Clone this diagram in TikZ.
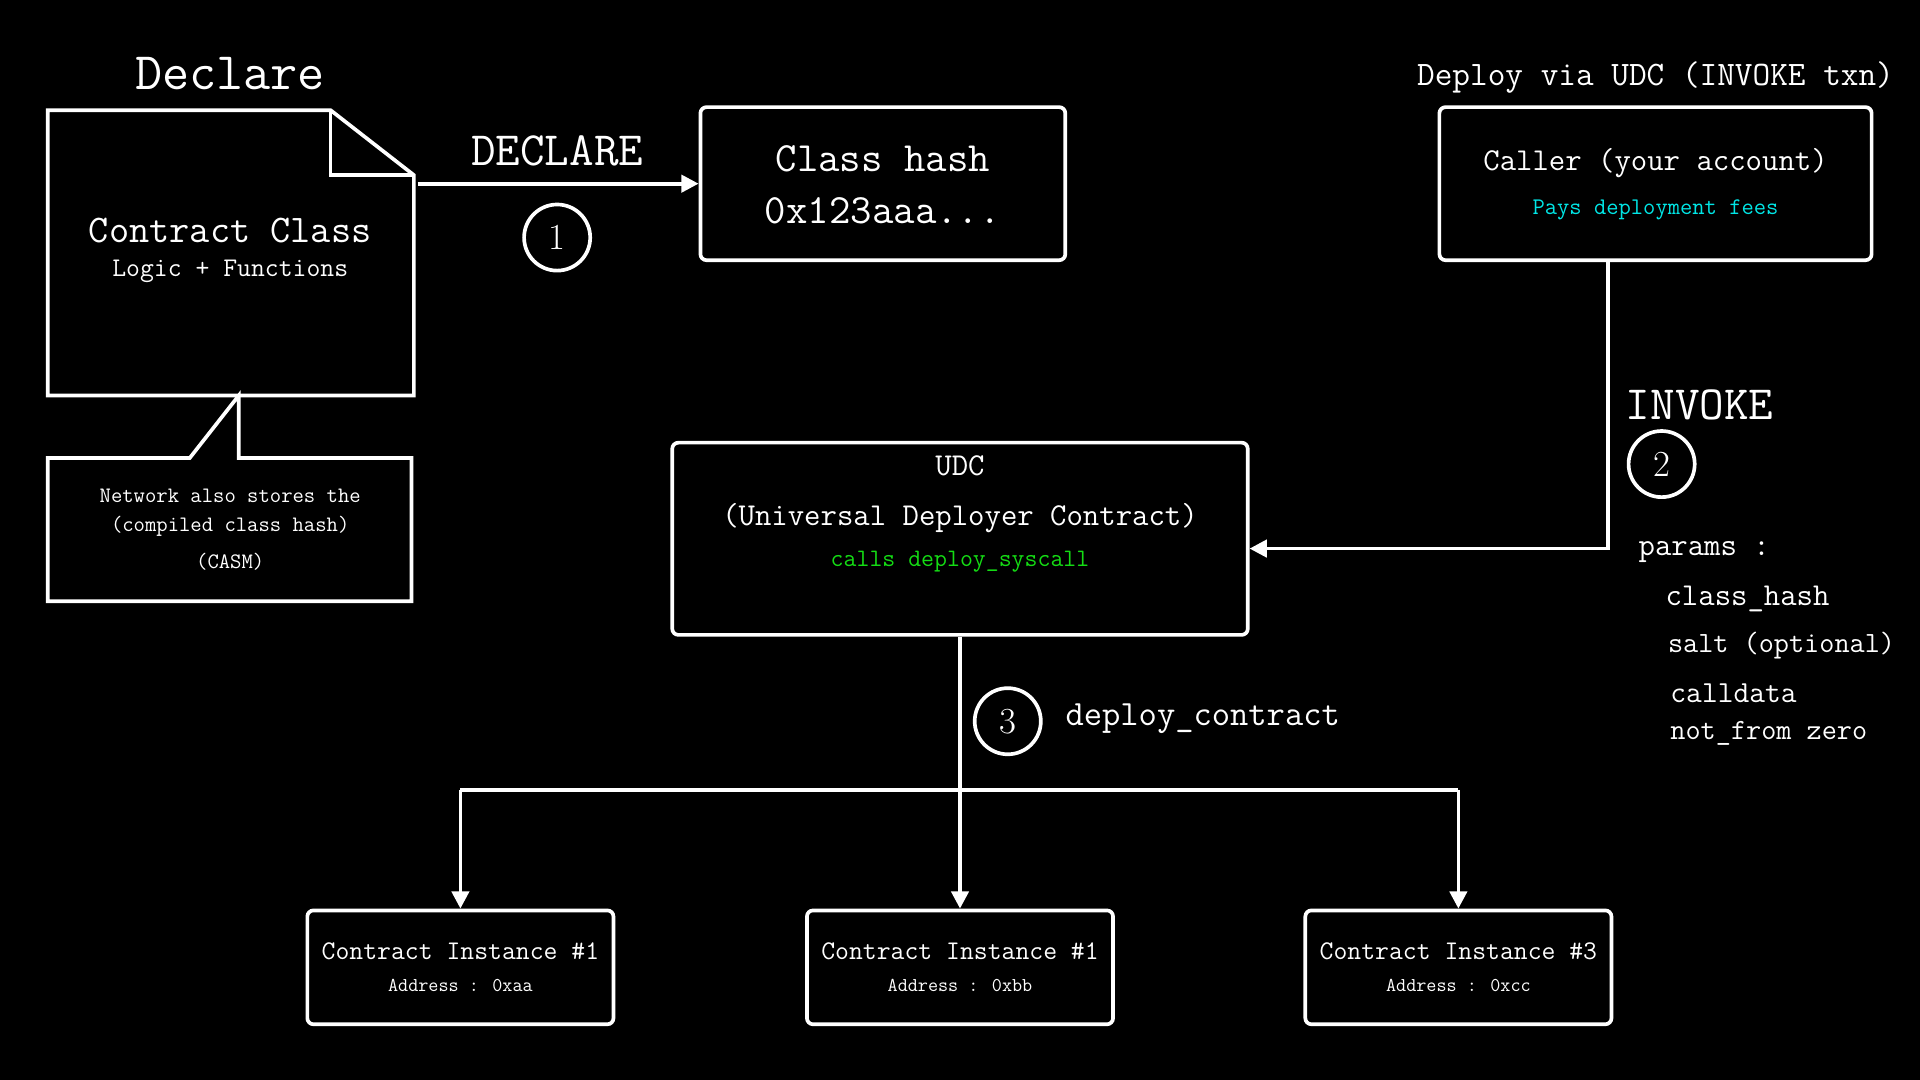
\documentclass[tikz,border=0pt]{standalone}
\usepackage{tikz}
\usetikzlibrary{positioning,arrows.meta}
\def\fs#1{\fontsize{#1}{#1}\selectfont}
\definecolor{feecyan}{RGB}{0,230,230}
\definecolor{callgreen}{RGB}{20,220,20}
\tikzset{
  line/.style={white,line width=3pt},
  arr/.style={line,-{Triangle[length=14pt,width=14pt]}},
  box/.style={draw=white,line width=3pt,rounded corners=5pt,inner sep=0pt},
  txt/.style={text=white,font=\ttfamily,inner sep=0pt,align=center},
  stepnum/.style={circle,draw=white,line width=3pt,minimum size=54pt,text=white,font=\fs{30}},
}
\begin{document}
\begin{tikzpicture}[x=1pt,y=-1pt]
  \fill[black] (0,0) rectangle (1568,882);
  \useasboundingbox (0,0) rectangle (1568,882);
%declare side
  \node[txt] at (188,60) {\fs{43}Declare};
  \draw[line] (39,90) -- (270,90) -- (338,143) -- (338,323) -- (39,323) -- cycle;
  \draw[line] (270,90) -- (270,143) -- (338,143);
  \node[txt] at (188,188) {\fs{32}Contract Class};
  \node[txt] at (188,222) {\fs{22}Logic + Functions};
  \draw[line] (155,374) -- (195,323) -- (195,374) -- (336,374) -- (336,491) -- (39,491) -- (39,374) -- cycle;
  \node[txt] at (188,405) {\fs{18}Network also stores the};
  \node[txt] at (188,430) {\fs{18}(compiled class hash)};
  \node[txt] at (188,459) {\fs{18}(CASM)};
  \coordinate (docR) at (341,150);
  \node[box,minimum width=298pt,minimum height=125pt] (hash) at (721,150) {};
  \node[txt] at (721,130) {\fs{34}Class hash};
  \node[txt] at (721,172) {\fs{34}0x123aaa...};
  \draw[arr] (docR) -- (hash.west);
  \node[txt] at (455,123) {\fs{39}DECLARE};
  \node[stepnum] (s1) at (455,194) {1};
%deploy side
  \node[txt] at (1352,63) {\fs{28}Deploy via UDC (INVOKE txn)};
  \node[box,minimum width=353pt,minimum height=125pt] (caller) at (1352,150) {};
  \node[txt] at (1352,133) {\fs{26}Caller (your account)};
  \node[txt,text=feecyan] at (1352,171) {\fs{19.5}Pays deployment fees};
  \node[box,minimum width=470pt,minimum height=157pt] (udc) at (784,440) {};
  \node[txt] at (784,380) {\fs{26}UDC};
  \node[txt] at (784,423) {\fs{26}(Universal Deployer Contract)};
  \node[txt,text=callgreen] at (784,459) {\fs{20.5}calls deploy\_syscall};
  \coordinate (callerB) at (1313,213);
  \coordinate (turn) at (1313,448);
  \draw[arr] (callerB) -- (turn) -- (udc.east |- turn);
  \node[txt] at (1388,331) {\fs{39}INVOKE};
  \node[stepnum] (s2) at (1357,379) {2};
  \node[txt,anchor=west] at (1338,451) {\fs{26}params :};
  \node[txt,anchor=west] at (1360,489) {\fs{26}class\_hash};
  \node[txt,anchor=west] at (1362,527) {\fs{24}salt (optional)};
  \node[txt,anchor=west] at (1364,566) {\fs{25}calldata};
  \node[txt,anchor=west] at (1364,599) {\fs{24}not\_from zero};
%instances
  \foreach \n/\x/\num/\addr in {A/376/1/aa,B/784/1/bb,C/1191/3/cc}{
    \node[box,minimum width=250pt,minimum height=93pt] (inst\n) at (\x,790) {};
    \node[txt] at (\x,777) {\fs{22}Contract Instance \#\num};
    \node[txt] at (\x,805) {\fs{16}Address : 0x\addr};
  }
  \coordinate (split) at (784,645);
  \draw[line] (instA.north |- split) -- (instC.north |- split);
  \draw[arr] (udc.south) -- (instB.north);
  \draw[arr] (instA.north |- split) -- (instA.north);
  \draw[arr] (instC.north |- split) -- (instC.north);
  \node[stepnum] (s3) at (823,589) {3};
  \node[txt,anchor=west] at (870,587) {\fs{29}deploy\_contract};
\end{tikzpicture}
\end{document}
